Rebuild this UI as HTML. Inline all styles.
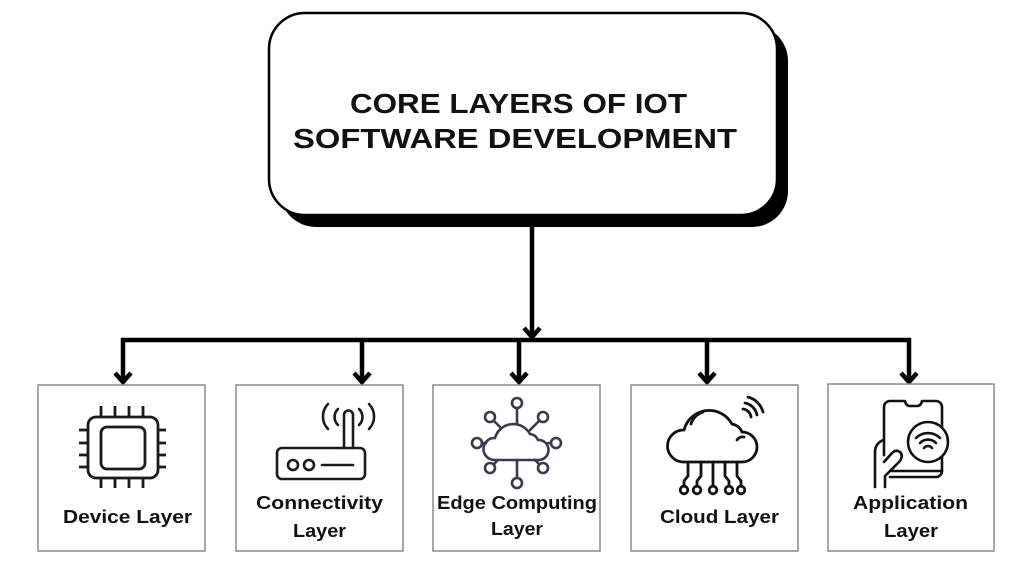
<!DOCTYPE html>
<html><head><meta charset="utf-8"><style>
html,body{margin:0;padding:0;background:#fff;}
svg{display:block;}
text{font-family:"Liberation Sans",sans-serif;font-weight:bold;fill:#111;}
</style></head><body>
<svg width="1024" height="576" viewBox="0 0 1024 576" xmlns="http://www.w3.org/2000/svg">
<rect width="1024" height="576" fill="#fff"/>
<!-- main box -->
<rect x="280" y="25" width="508" height="202" rx="36" fill="#000"/>
<rect x="269" y="13" width="508" height="202" rx="36" fill="#fff" stroke="#000" stroke-width="2.5"/>
<text x="350" y="113" font-size="28" textLength="337" lengthAdjust="spacingAndGlyphs">CORE LAYERS OF IOT</text>
<text x="293" y="148" font-size="28" textLength="444" lengthAdjust="spacingAndGlyphs">SOFTWARE DEVELOPMENT</text>
<!-- connectors -->
<g stroke="#000" stroke-width="4.5" fill="none" stroke-linecap="butt">
<line x1="532" y1="226" x2="532" y2="336"/>
<polyline points="524,328 532,337 540,328" stroke-linejoin="miter"/>
<line x1="121" y1="340" x2="911" y2="340"/>
<line x1="123" y1="338" x2="123" y2="381"/>
<line x1="362" y1="338" x2="362" y2="381"/>
<line x1="519" y1="340" x2="519" y2="381"/>
<line x1="707" y1="340" x2="707" y2="381"/>
<line x1="909" y1="338" x2="909" y2="381"/>
<polyline points="115,373 123,382 131,373"/>
<polyline points="354,373 362,382 370,373"/>
<polyline points="511,373 519,382 527,373"/>
<polyline points="699,373 707,382 715,373"/>
<polyline points="901,373 909,382 917,373"/>
</g>
<!-- boxes -->
<g fill="#fff" stroke="#8a8a8a" stroke-width="1.5">
<rect x="38" y="385" width="167" height="166"/>
<rect x="236" y="385" width="167" height="166"/>
<rect x="433" y="385" width="167" height="166"/>
<rect x="631" y="385" width="167" height="166"/>
<rect x="828" y="384" width="166" height="167"/>
</g>
<!-- chip icon -->
<g stroke="#1a1a1a" stroke-width="2.8" fill="none" stroke-linecap="butt">
<rect x="88" y="417" width="70" height="61" rx="8"/>
<rect x="101" y="427" width="44" height="42" rx="6"/>
<line x1="101" y1="406" x2="101" y2="417"/><line x1="115" y1="406" x2="115" y2="417"/><line x1="129" y1="406" x2="129" y2="417"/><line x1="143" y1="406" x2="143" y2="417"/>
<line x1="101" y1="478" x2="101" y2="488"/><line x1="115" y1="478" x2="115" y2="488"/><line x1="129" y1="478" x2="129" y2="488"/><line x1="143" y1="478" x2="143" y2="488"/>
<line x1="79" y1="430" x2="88" y2="430"/><line x1="79" y1="443" x2="88" y2="443"/><line x1="79" y1="455" x2="88" y2="455"/><line x1="79" y1="467" x2="88" y2="467"/>
<line x1="158" y1="430" x2="166" y2="430"/><line x1="158" y1="443" x2="166" y2="443"/><line x1="158" y1="455" x2="166" y2="455"/><line x1="158" y1="467" x2="166" y2="467"/>
</g>
<!-- router icon -->
<g stroke="#1a1a1a" stroke-width="2.6" fill="none" stroke-linecap="round">
<rect x="277" y="448" width="88" height="31" rx="5"/>
<circle cx="293" cy="465" r="5"/>
<circle cx="309" cy="465" r="5"/>
<line x1="322" y1="465" x2="353" y2="465"/>
<path d="M344 448 V415 A4.5 4.5 0 0 1 353 415 V448"/>
<path d="M328 404 A18 18 0 0 0 328 429"/>
<path d="M338 409 A11 11 0 0 0 338 425"/>
<path d="M369 404 A18 18 0 0 1 369 429"/>
<path d="M359 409 A11 11 0 0 1 359 425"/>
</g>
<!-- edge computing icon -->
<g stroke="#3a3a4c" stroke-width="2.6" fill="none" stroke-linecap="round">
<path d="M494 460 A11 11 0 0 1 495 438 A19 19 0 0 1 530 434 A10 10 0 0 1 538 440 A10 10 0 0 1 539 460 Z"/>
<circle cx="517" cy="403" r="5"/><line x1="517" y1="408" x2="517" y2="424"/>
<circle cx="490" cy="417" r="5"/><line x1="494" y1="421" x2="501" y2="428"/>
<circle cx="543" cy="417" r="5"/><line x1="539" y1="421" x2="530" y2="430"/>
<circle cx="477" cy="443" r="5"/><line x1="482" y1="443" x2="486" y2="443"/>
<circle cx="556" cy="443" r="5"/><line x1="551" y1="443" x2="548" y2="443"/>
<circle cx="490" cy="468" r="5"/><line x1="494" y1="464" x2="498" y2="460"/>
<circle cx="543" cy="468" r="5"/><line x1="539" y1="464" x2="535" y2="460"/>
<circle cx="517" cy="483" r="5"/><line x1="517" y1="460" x2="517" y2="478"/>
</g>
<!-- cloud icon -->
<g stroke="#111" stroke-width="2.8" fill="none" stroke-linecap="round">
<path d="M683 462 A16 16 0 0 1 684 430 A26 26 0 0 1 732 424 A14 14 0 0 1 742 432 A15 15 0 0 1 742 462 Z"/>
<path d="M691 424 A18 18 0 0 1 703 412"/>
<path d="M737 440 A7 7 0 0 1 744 437"/>
<path d="M743 409 A9 9 0 0 1 751 417"/>
<path d="M745 403 A15 15 0 0 1 757 415"/>
<path d="M748 397 A21 21 0 0 1 763 412"/>
<path d="M688 462 V476 L684 481 V486"/>
<path d="M701 462 V476 L697 481 V486"/>
<path d="M713 462 V486"/>
<path d="M725 462 V476 L729 481 V486"/>
<path d="M737 462 V476 L741 481 V486"/>
<circle cx="684" cy="490" r="3.8"/>
<circle cx="697" cy="490" r="3.8"/>
<circle cx="713" cy="490" r="3.8"/>
<circle cx="729" cy="490" r="3.8"/>
<circle cx="741" cy="490" r="3.8"/>
</g>
<!-- app icon -->
<g stroke="#111" stroke-width="2.6" fill="none" stroke-linecap="round" stroke-linejoin="round">
<path d="M884 455 V407 A6 6 0 0 1 890 401 H905 Q906 406 910 406 H917 Q921 406 922 401 H936 A6 6 0 0 1 942 407 V471 A6 6 0 0 1 936 477 H890"/>
<line x1="892" y1="471" x2="942" y2="471"/>
<circle cx="928" cy="442" r="20" fill="#fff"/>
<path d="M916 438 A17 17 0 0 1 940 438"/>
<path d="M920 443 A11 11 0 0 1 936 443"/>
<path d="M924 448 A5 5 0 0 1 932 448"/>
<path d="M875 487 V452 Q875 444 883 440"/>
<path d="M885 487 V476 L899 462 Q904 456 900 452 Q896 449 892 453 L884 462"/>
</g>
<!-- labels -->
<text x="63" y="523" font-size="18" textLength="129" lengthAdjust="spacingAndGlyphs">Device Layer</text>
<text x="256" y="509" font-size="18" textLength="127" lengthAdjust="spacingAndGlyphs">Connectivity</text>
<text x="293" y="537" font-size="18" textLength="53" lengthAdjust="spacingAndGlyphs">Layer</text>
<text x="437" y="509" font-size="18" textLength="160" lengthAdjust="spacingAndGlyphs">Edge Computing</text>
<text x="491" y="535" font-size="18" textLength="52" lengthAdjust="spacingAndGlyphs">Layer</text>
<text x="660" y="523" font-size="18" textLength="119" lengthAdjust="spacingAndGlyphs">Cloud Layer</text>
<text x="853" y="509" font-size="18" textLength="115" lengthAdjust="spacingAndGlyphs">Application</text>
<text x="884" y="537" font-size="18" textLength="54" lengthAdjust="spacingAndGlyphs">Layer</text>
</svg>
</body></html>
